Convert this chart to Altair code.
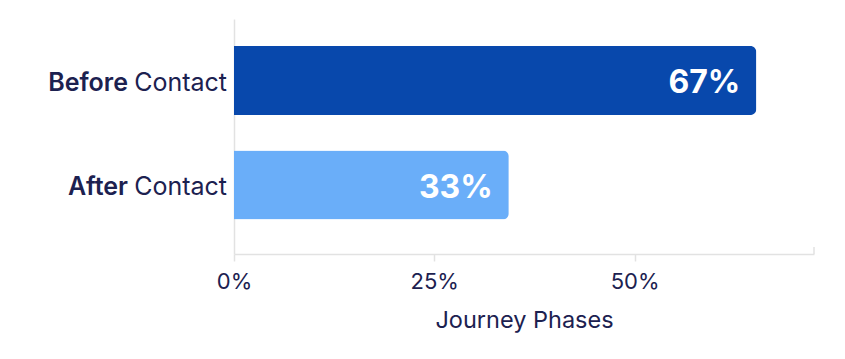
import altair as alt
import pandas as pd

# ---- data ----
phases = ["Before Contact", "After Contact"]
bold_words = ["Before", "After"]
rest_words = ["Contact", "Contact"]
shares = [0.652, 0.343]          # bar lengths as drawn
share_labels = ["67%", "33%"]    # printed labels
bar_colors = ["#0848AC", "#6AAEF9"]
x_ticks = [0, 0.25, 0.5]

df = pd.DataFrame({
    "phase": phases,
    "bold": bold_words,
    "rest": rest_words,
    "share": shares,
    "label": share_labels,
})

FONT = "Inter"
NAVY = "#1c2150"
GRID = "#e2e2e2"

y_enc = alt.Y(
    "phase:N",
    sort=phases,
    scale=alt.Scale(paddingInner=0.34, paddingOuter=0.294, align=0.44),
    axis=alt.Axis(labels=False, ticks=False, title=None, domainColor=GRID,
                  domainWidth=1.5, grid=False),
)

x_enc = alt.X(
    "share:Q",
    scale=alt.Scale(domain=[0, 0.724], nice=False, zero=True),
    axis=alt.Axis(
        values=x_ticks, format=".0%", grid=False,
        domainColor=GRID, domainWidth=1.5,
        tickColor=GRID, tickSize=7, tickWidth=1.5,
        labelFont=FONT, labelFontSize=22, labelColor=NAVY,
        labelPadding=10, labelFlush=False,
        title="Journey Phases", titleFont=FONT, titleFontSize=23.5,
        titleFontWeight="normal", titleColor=NAVY,
        titleBaseline="alphabetic", titleY=73,
    ),
)

base = alt.Chart(df)

bars = base.mark_bar(cornerRadiusEnd=6).encode(
    x=x_enc,
    y=y_enc,
    color=alt.Color("phase:N", scale=alt.Scale(domain=phases, range=bar_colors), legend=None),
)

bar_text = base.mark_text(
    align="right", baseline="alphabetic", dx=-16, dy=12.5,
    fontSize=32, fontWeight="bold", color="white", font=FONT,
).encode(x="share:Q", y=alt.Y("phase:N", sort=phases), text="label:N")

rest_text = base.mark_text(
    align="right", baseline="alphabetic", dx=-7, dy=10,
    fontSize=25, color=NAVY, font=FONT,
).encode(x=alt.value(0), y=alt.Y("phase:N", sort=phases), text="rest:N")

bold_text = base.mark_text(
    align="right", baseline="alphabetic", dx=-106, dy=10,
    fontSize=25, fontWeight=600, color=NAVY, font=FONT,
).encode(x=alt.value(0), y=alt.Y("phase:N", sort=phases), text="bold:N")

end_stub = alt.Chart(pd.DataFrame({"k": [0]})).mark_rule(color=GRID, strokeWidth=1.5).encode(
    x=alt.value(580), y=alt.value(228), y2=alt.value(235)
)

chart = (
    alt.layer(bars, bar_text, rest_text, bold_text, end_stub)
    .properties(
        width=580, height=235,
        autosize=alt.AutoSizeParams(type="none"),
        padding={"left": 234, "top": 19, "right": 31, "bottom": 105},
        background="white",
    )
    .configure_view(stroke=None)
)

chart.save("out.html", embed_options={"renderer": "svg", "actions": False})
